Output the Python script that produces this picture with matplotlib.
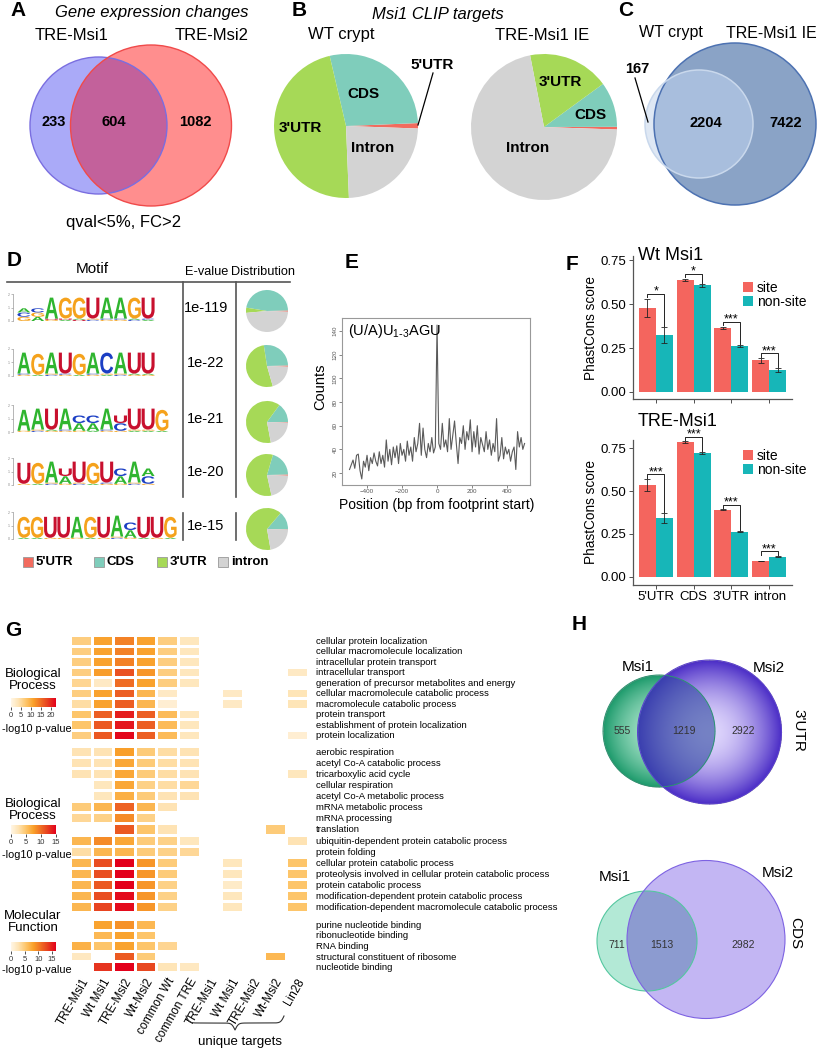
import numpy as np
import matplotlib
matplotlib.use('Agg')
import matplotlib.pyplot as plt
from matplotlib.patches import Circle, PathPatch, Patch
from matplotlib.textpath import TextPath
from matplotlib.font_manager import FontProperties
from matplotlib.transforms import Affine2D
from matplotlib.colors import LinearSegmentedColormap, to_rgb

plt.rcParams['font.family'] = 'Liberation Sans'
plt.rcParams['axes.facecolor'] = 'none'

n = np.nan

# ---------------- data ----------------
# A
a_names = ['TRE-Msi1', 'TRE-Msi2']
a_counts = [233, 604, 1082]

# B
regions = ["5'UTR", 'CDS', "3'UTR", 'Intron']
region_colors = ['#f26b5e', '#7fcdbb', '#a6d957', '#d3d3d3']
b_wt = [1.2, 28, 47, 23.8]
b_tre = [0.6, 10, 18, 71.4]

# C
c_names = ['WT crypt', 'TRE-Msi1 IE']
c_counts = [167, 2204, 7422]

# D  (lowercase = minor letter, uppercase = major letter, bottom to top)
motifs = [
    ['GCA', 'AGC', 'guA', 'auG', 'uaG', 'cgU', 'gcA', 'gcA', 'caG', 'acU'],
    ['gcA', 'aG', 'cgA', 'gcU', 'aG', 'gcA', 'agC', 'cgA', 'gaU', 'gaU'],
    ['gA', 'cgA', 'gaU', 'gcA', 'gAC', 'aAC', 'gcA', 'gCU', 'agU', 'agU', 'aG'],
    ['gU', 'aG', 'cgA', 'gAU', 'cgU', 'aG', 'gcU', 'gAC', 'cgA', 'gCA'],
    ['aG', 'aG', 'gU', 'gU', 'gA', 'aG', 'gU', 'cgA', 'gAC', 'aU', 'gU', 'aG'],
]
evalues = ['1e-119', '1e-22', '1e-21', '1e-20', '1e-15']
motif_dist = [[1, 47, 4, 48], [1, 27, 52, 20], [0.5, 15, 63, 21.5],
              [1, 20, 58, 21], [0.3, 14, 64, 21.7]]
legend_regions = ["5'UTR", 'CDS', "3'UTR", 'intron']
letter_colors = {'A': '#2fb52f', 'C': '#1c3fc4', 'G': '#f5a21c', 'U': '#c8102e'}

# E
e_pos = np.arange(-500, 501, 10)
e_counts = [23, 27, 31, 24, 35, 36, 22, 15, 30, 25,
            35, 22, 33, 28, 37, 30, 26, 38, 28, 35,
            25, 48, 30, 40, 27, 42, 33, 43, 28, 45,
            35, 40, 30, 47, 35, 42, 30, 50, 38, 45,
            62, 35, 58, 40, 33, 45, 38, 50, 37, 42,
            145, 45, 40, 62, 42, 48, 38, 66, 40, 52,
            64, 45, 28, 50, 45, 60, 40, 55, 48, 65,
            38, 55, 42, 60, 36, 50, 44, 38, 55, 40,
            48, 35, 45, 38, 66, 30, 35, 50, 32, 42,
            36, 40, 30, 38, 42, 23, 55, 42, 50, 40, 45]

# F
f_regions = ["5'UTR", 'CDS', "3'UTR", 'intron']
wt_site = [0.48, 0.64, 0.365, 0.18]
wt_site_err = [0.052, 0.005, 0.008, 0.014]
wt_non = [0.325, 0.607, 0.262, 0.125]
wt_non_err = [0.045, 0.008, 0.005, 0.012]
wt_sig = ['*', '*', '***', '***']
tre_site = [0.535, 0.785, 0.39, 0.093]
tre_site_err = [0.035, 0.004, 0.003, 0.002]
tre_non = [0.343, 0.722, 0.263, 0.118]
tre_non_err = [0.03, 0.004, 0.003, 0.002]
tre_sig = ['***', '***', '***', '***']

# G
g_cols = ['TRE-Msi1', 'Wt Msi1', 'TRE-Msi2', 'Wt-Msi2', 'common Wt', 'common TRE',
          'TRE-Msi1', 'Wt Msi1', 'TRE-Msi2', 'Wt-Msi2', 'Lin28']
g1_terms = ['cellular protein localization', 'cellular macromolecule localization',
            'intracellular protein transport', 'intracellular transport',
            'generation of precursor metabolites and energy',
            'cellular macromolecule catabolic process', 'macromolecule catabolic process',
            'protein transport', 'establishment of protein localization', 'protein localization']
g1_vals = [
    [6.5, 11, 13.5, 11, 6.5, 3, n, n, n, n, n],
    [6.5, 11, 13.5, 11, 6.5, 3, n, n, n, n, n],
    [6.5, 11, 13.5, 11, 6.5, 3, n, n, n, n, n],
    [6.5, 11.5, 17, 12, 6.5, 3, n, n, n, n, 2.5],
    [5.5, 2.5, 15, 11, 6.5, 3, n, n, n, n, n],
    [6.5, 11, 16, 9, 2.5, n, n, 2.5, n, n, 3.5],
    [4.5, 11, 16, 9, 1.5, n, n, 2.5, n, n, 3.5],
    [7.5, 16, 20.5, 16, 8.5, 3, n, n, n, n, n],
    [7.5, 16.5, 21, 16, 8.5, 3, n, n, n, n, n],
    [6.5, 16.5, 22, 16, 8.5, 3, n, n, n, n, 1.5],
]
g2_terms = ['aerobic respiration', 'acetyl Co-A catabolic process', 'tricarboxylic acid cycle',
            'cellular respiration', 'acetyl Co-A metabolic process', 'mRNA metabolic process',
            'mRNA processing', 'translation', 'ubiquitin-dependent protein catabolic process',
            'protein folding', 'cellular protein catabolic process',
            'proteolysis involved in cellular protein catabolic process',
            'protein catabolic process', 'modification-dependent protein catabolic process',
            'modification-dependent macromolecule catabolic process']
g2_vals = [
    [2.5, 2.5, 7.5, 4.5, 3, 2.5, n, n, n, n, n],
    [2.5, 2.5, 7, 4.5, 3, 2.5, n, n, n, n, n],
    [2.5, 2.5, 7, 4.5, 3, 2.5, n, n, n, n, 2],
    [n, 2, 7, 4, 3, 3.5, n, n, n, n, n],
    [n, 2, 6.5, 4.5, 2.5, 2.5, n, n, n, n, n],
    [4.5, 6, 10.5, 6, 2.5, n, n, n, n, n, n],
    [3.5, 4, 8.5, 4, n, n, n, n, n, n, n],
    [n, n, 11, 5, 2.5, n, n, n, n, 4.5, n],
    [6, 8.5, 7, 4.5, 4, 2, n, n, n, n, 2.5],
    [3, 6, 6, 4.5, 4, 3.5, n, n, n, n, n],
    [6, 11.5, 15, 8, 4.5, n, n, 2, n, n, 5],
    [6, 11.5, 15, 8, 4.5, n, n, 2, n, n, 5],
    [6, 11, 15, 8, 4, n, n, 1.5, n, n, 5],
    [6, 11.5, 14.5, 8, 4, n, n, 2, n, n, 5],
    [6, 12, 14.5, 8, 4, n, n, 2, n, n, 5],
]
g3_terms = ['purine nucleotide binding', 'ribonucleotide binding', 'RNA binding',
            'structural constituent of ribosome', 'nucleotide binding']
g3_vals = [
    [n, 8, 9, 6.5, n, n, n, n, n, n, n],
    [n, 6.5, 8, 5.5, n, n, n, n, n, n, n],
    [7, 5.5, 8, 5.5, 4, n, n, n, n, n, n],
    [2, n, 12, 5, n, n, n, n, n, 6.5, n],
    [n, 14, 16.5, 13, 2.5, 2, n, n, n, n, n],
]

# H
h_utr_counts = [555, 1219, 2922]
h_cds_counts = [711, 1513, 2982]

# ---------------- figure ----------------
W, H = 820, 1050
fig = plt.figure(figsize=(8.2, 10.5), dpi=100)


def px_axes(x, y, w, h, **kw):
    return fig.add_axes([x / W, 1 - (y + h) / H, w / W, h / H], **kw)


ov = px_axes(0, 0, W, H, zorder=5)
ov.axis('off')


def txt(x, y, s, size=10, **kw):
    kw.setdefault('ha', 'center')
    kw.setdefault('va', 'center')
    ov.text(x, y, s, fontsize=size, **kw)


def venn2(c1, r1, c2, r2, f1, f2, f12, e1, e2, lw=1.0):
    ov.add_patch(Circle(c1, r1, fc=f1, ec='none'))
    ov.add_patch(Circle(c2, r2, fc=f2, ec='none'))
    clip = Circle(c1, r1, fill=False, lw=0)
    ov.add_patch(clip)
    inter = Circle(c2, r2, fc=f12, ec='none')
    ov.add_patch(inter)
    inter.set_clip_path(clip)
    ov.add_patch(Circle(c1, r1, fill=False, ec=e1, lw=lw))
    ov.add_patch(Circle(c2, r2, fill=False, ec=e2, lw=lw))


def pie_at(cx, cy, r, vals):
    ax = px_axes(cx - r, cy - r, 2 * r, 2 * r)
    ax.pie(vals, colors=region_colors, startangle=-2, counterclock=True,
           wedgeprops=dict(linewidth=0))
    ax.set_xlim(-1, 1)
    ax.set_ylim(-1, 1)
    return ax


# panel letters
for lab, x, y in [('A', 10, 11), ('B', 292, 11), ('C', 618, 10), ('D', 7, 260),
                  ('E', 345, 263), ('F', 566, 264), ('G', 5, 631), ('H', 572, 624)]:
    txt(x, y, lab, 15, weight='bold', ha='left')

# ---- A ----
txt(152, 12, 'Gene expression changes', 12, style='italic')
txt(72, 35, a_names[0], 12)
txt(212, 35, a_names[1], 12)
venn2((98.5, 125.5), 68.5, (151, 125.5), 80.5,
      '#aaaaf8', '#ff8e8e', '#c3619b', '#7a6ee0', '#f04a4a')
for x, v in zip([54, 114, 195], a_counts):
    txt(x, 122, str(v), 10.5, weight='bold')
txt(124, 222, 'qval<5%, FC>2', 12)

# ---- B ----
txt(438, 15, 'Msi1 CLIP targets', 12, style='italic')
txt(341, 35, 'WT crypt', 12)
txt(542, 35, 'TRE-Msi1 IE', 12)
pie_at(346, 126, 72, b_wt)
pie_at(544, 127, 73, b_tre)
txt(363, 94, 'CDS', 11, weight='bold')
txt(300, 128, "3'UTR", 11, weight='bold')
txt(373, 148, 'Intron', 11, weight='bold')
txt(432, 65, "5'UTR", 11, weight='bold')
ov.plot([433, 418], [73, 125], color='black', lw=0.9)
txt(560, 82, "3'UTR", 11, weight='bold')
txt(590, 115, 'CDS', 11, weight='bold')
txt(528, 148, 'Intron', 11, weight='bold')

# ---- C ----
txt(671, 33, c_names[0], 11.5)
txt(817, 33, c_names[1], 11.5, ha='right')
venn2((735, 124), 81, (699, 124), 54, '#8aa3c6', '#dfe8f4', '#a8bedd', '#4d72b2', '#c9d8ec', lw=1.1)
txt(637, 69, str(c_counts[0]), 10.5, weight='bold')
ov.plot([635, 648], [78, 122], color='black', lw=0.9)
txt(706, 123, str(c_counts[1]), 10.5, weight='bold')
txt(786, 123, str(c_counts[2]), 10.5, weight='bold')

# ---- D ----
txt(92, 269, 'Motif', 11)
txt(207, 272, 'E-value', 9.2)
txt(263, 272, 'Distribution', 9.2)
ov.plot([7, 290], [282, 282], color='#555555', lw=1.2)
for x in [183, 236]:
    ov.plot([x, x], [282, 497], color='#555555', lw=1.2)
    ov.plot([x, x], [513, 540], color='#555555', lw=1.2)

fp_logo = FontProperties(family='Liberation Sans', weight='bold')
letter_paths = {}
for ch in 'ACGU':
    letter_paths[ch] = TextPath((0, 0), ch, size=1, prop=fp_logo)


def draw_letter(ax, ch, x, y, w, h):
    tp = letter_paths[ch]
    bb = tp.get_extents()
    tr = Affine2D().translate(-bb.x0, -bb.y0).scale(w / bb.width, h / bb.height).translate(x, y)
    ax.add_patch(PathPatch(tr.transform_path(tp), fc=letter_colors[ch], ec='none'))


row_y = [308, 363, 419, 472, 526]
for motif, yc, ev, dist in zip(motifs, row_y, evalues, motif_dist):
    npos = len(motif)
    pw = min(13.8, 160 / npos)
    lax = px_axes(17, yc - 14, npos * pw, 27)
    lax.set_xlim(0, npos)
    lax.set_ylim(0, 2)
    for s in ['top', 'right', 'bottom']:
        lax.spines[s].set_visible(False)
    lax.spines['left'].set_position(('outward', 3))
    lax.spines['left'].set_color('#999999')
    lax.spines['left'].set_linewidth(0.5)
    lax.set_xticks([])
    lax.set_yticks([0, 1, 2])
    lax.tick_params(axis='y', length=1.5, width=0.4, labelsize=2.5, pad=0.5, colors='#888888')
    for i, stack in enumerate(motif):
        nbig = sum(c.isupper() for c in stack)
        big_total = {1: 1.6, 2: 1.15, 3: 0.95}[nbig]
        y0 = 0
        for c in stack:
            h = 0.09 if c.islower() else big_total / nbig
            draw_letter(lax, c.upper(), i + 0.03, y0, 0.94, h * 0.97)
            y0 += h
    txt(206, yc, ev, 10.5)
    pie_at(267, yc + 3, 21, dist)

for x, lab, col in zip([23, 94, 157, 218], legend_regions, region_colors):
    ov.add_patch(plt.Rectangle((x, 557), 10, 10, fc=col, ec='#999999', lw=0.6))
    txt(x + 13, 562, lab, 9.5, weight='bold', ha='left')

# ---- E ----
eax = px_axes(342, 318, 188, 167)
eax.plot(e_pos, e_counts, color='#5a5a5a', lw=0.8)
eax.set_xlim(-543, 531)
eax.set_ylim(9.9, 151)
eax.set_xticks([-400, -200, 0, 200, 400])
eax.set_yticks(range(20, 141, 20))
eax.tick_params(labelsize=4.5, length=2, width=0.5, colors='#555555', pad=1)
for lab in eax.get_yticklabels():
    lab.set_rotation(90)
    lab.set_va('center')
for s in eax.spines.values():
    s.set_color('#999999')
    s.set_linewidth(0.8)
eax.text(0.03, 0.92, r'(U/A)U$_{\mathregular{1\text{-}3}}$AGU', transform=eax.transAxes,
         fontsize=10.5, va='center')
txt(320, 387, 'Counts', 10.5, rotation=90)
txt(437, 505, 'Position (bp from footprint start)', 10)

# ---- F ----
c_site, c_non = '#f4655e', '#17b6b8'


def draw_f(ax, site, site_err, non, non_err, sig, show_x):
    x = np.arange(1, 5)
    ax.bar(x - 0.225, site, 0.45, color=c_site)
    ax.bar(x + 0.225, non, 0.45, color=c_non)
    ax.errorbar(x - 0.225, site, yerr=site_err, fmt='none', ecolor='#222222',
                elinewidth=0.6, capsize=2, capthick=0.6)
    ax.errorbar(x + 0.225, non, yerr=non_err, fmt='none', ecolor='#222222',
                elinewidth=0.6, capsize=2, capthick=0.6)
    for i in range(4):
        top = max(site[i] + site_err[i], non[i] + non_err[i]) + 0.028
        ax.plot([x[i] - 0.225, x[i] - 0.225, x[i] + 0.225, x[i] + 0.225],
                [top - 0.02, top, top, non[i] + non_err[i] + 0.005], color='#222222', lw=0.7,
                clip_on=False)
        ax.annotate(sig[i], (x[i], top), xytext=(0, 1.5), textcoords='offset points',
                    ha='center', va='center', fontsize=9, annotation_clip=False)
    ax.set_xlim(0.4, 4.6)
    ax.set_xticks(x)
    ax.set_xticklabels(f_regions if show_x else [], fontsize=10)
    ax.set_yticks([0, 0.25, 0.5, 0.75])
    ax.set_yticklabels(['0.00', '0.25', '0.50', '0.75'])
    ax.tick_params(labelsize=9.5, length=3, width=0.6, colors='#333333', labelcolor='black', pad=1.5)
    for s in ['top', 'right']:
        ax.spines[s].set_visible(False)
    for s in ['left', 'bottom']:
        ax.spines[s].set_color('#555555')
        ax.spines[s].set_linewidth(0.9)
    ax.set_ylabel('PhastCons score', fontsize=9.8, labelpad=2)


fax1 = px_axes(633, 256, 159, 143)
draw_f(fax1, wt_site, wt_site_err, wt_non, wt_non_err, wt_sig, False)
fax1.set_ylim(-0.04, 0.775)
fax2 = px_axes(633, 440, 159, 145)
draw_f(fax2, tre_site, tre_site_err, tre_non, tre_non_err, tre_sig, True)
fax2.set_ylim(-0.047, 0.797)
txt(638, 255, 'Wt Msi1', 13, ha='left')
txt(638, 421, 'TRE-Msi1', 13, ha='left')
for ax, ytop in [(fax1, 281), (fax2, 449)]:
    ax.legend(handles=[Patch(fc=c_site, label='site'), Patch(fc=c_non, label='non-site')],
              loc='upper left', bbox_to_anchor=(743 / W, 1 - ytop / H),
              bbox_transform=fig.transFigure, frameon=False, fontsize=10,
              handlelength=0.75, handleheight=0.75, handletextpad=0.25,
              labelspacing=0.0, borderpad=0, borderaxespad=0)

# ---- G ----
heat_cmap = LinearSegmentedColormap.from_list(
    'go', ['#fff6e6', '#fee3b3', '#fdc56a', '#f9a02a', '#ef6d24', '#e63a1f', '#e3001b'])

groups = [
    (g1_vals, g1_terms, 22.5, [0, 5, 10, 15, 20], 635, 105, ('Biological', 'Process'), 680, 698, 729),
    (g2_vals, g2_terms, 15, [0, 5, 10, 15], 746, 166, ('Biological', 'Process'), 810, 825, 855),
    (g3_vals, g3_terms, 16.5, [0, 5, 10, 15], 919, 53, ('Molecular', 'Function'), 922, 942, 970),
]
gw = 11 * 21.6
for k, (vals, terms, vmax, ticks, y0, hh, ttl, ty, cy, ly) in enumerate(groups):
    arr = np.ma.masked_invalid(np.array(vals, dtype=float))
    gax = px_axes(70, y0, gw, hh)
    gax.pcolormesh(arr, cmap=heat_cmap, vmin=0, vmax=vmax, edgecolors='white', linewidth=1.0)
    gax.set_xlim(0, 11)
    gax.set_ylim(len(terms), 0)
    for s in gax.spines.values():
        s.set_visible(False)
    gax.yaxis.tick_right()
    gax.set_yticks(np.arange(len(terms)) + 0.5)
    gax.set_yticklabels(terms, fontsize=6.8)
    gax.tick_params(axis='y', length=0, pad=6)
    if k == 2:
        gax.set_xticks(np.arange(11) + 0.5)
        gax.set_xticklabels(g_cols, rotation=60, ha='right', rotation_mode='anchor', fontsize=8.5)
        gax.tick_params(axis='x', length=0, pad=3)
    else:
        gax.set_xticks([])
    cax = px_axes(11, cy, 45, 9)
    sm = plt.cm.ScalarMappable(cmap=heat_cmap, norm=plt.Normalize(0, vmax))
    cb = fig.colorbar(sm, cax=cax, orientation='horizontal', ticks=ticks)
    cb.outline.set_visible(False)
    cax.tick_params(length=2.5, width=0.6, labelsize=5.5, pad=1, colors='#333333')
    txt(33, ty, ttl[0] + '\n' + ttl[1], 9.5, linespacing=1.05)
    txt(2, ly, '-log10 p-value', 7.8, ha='left')

# curly brace under unique targets
bx0, bx1, by, bh = 186, 284, 1016, 14
xh = np.linspace(0, 0.5, 151)
yh = 1 / (1 + np.exp(-60 * xh)) + 1 / (1 + np.exp(-60 * (xh - 0.5))) - 0.5
ycurve = np.concatenate((yh, yh[-2::-1]))
xcurve = np.linspace(bx0, bx1, len(ycurve))
ov.plot(xcurve, by + bh * ycurve, color='#333333', lw=0.8)
txt(240, 1042, 'unique targets', 9.5)

# ---- H ----
gx0, gx1, gy0, gy1 = 595, 790, 655, 810
xs = np.arange(gx0, gx1, 0.5)
ys = np.arange(gy0, gy1, 0.5)
X, Y = np.meshgrid(xs, ys)
gc, gr = (659, 731), 56
pc, pr = (709.5, 732), 72


def shade(cx, cy, r, c0, c1):
    d = np.clip(np.hypot(X - cx, Y - cy) / r, 0, 1)
    t = (d ** 1.8)[..., None]
    return np.array(to_rgb(c0)) * (1 - t) + np.array(to_rgb(c1)) * t, np.hypot(X - cx, Y - cy) <= r


gcol, gin = shade(gc[0], gc[1], gr, '#a9e4ca', '#1c9a6b')
pcol, pin = shade(pc[0], pc[1], pr, '#ded5fc', '#4a2cc6')
img = np.zeros(X.shape + (4,))
img[gin, :3] = gcol[gin]
img[pin, :3] = pcol[pin]
both = gin & pin
img[both, :3] = pcol[both] * 0.4 + np.array(to_rgb('#2f4aa0')) * 0.6
img[gin | pin, 3] = 1
ov.imshow(img, extent=(gx0, gx1, gy1, gy0), origin='upper', interpolation='bilinear', zorder=1)
ov.add_patch(Circle(gc, gr, fill=False, ec='#2a9470', lw=0.7, zorder=2))
ov.add_patch(Circle(pc, pr, fill=False, ec='#5a3fd0', lw=0.7, zorder=2))
txt(638, 667, 'Msi1', 11)
txt(769, 668, 'Msi2', 11)
txt(798, 730, "3'UTR", 11, rotation=-90)
for x, v in zip([622, 684, 743], h_utr_counts):
    txt(x, 731, str(v), 7.5, color='#333333')

venn2((647, 941), 50, (706, 939.5), 79, '#b3e9d6', '#c3b6f3', '#8c9bd0', '#55c7a0', '#7d62e2', lw=0.8)
txt(615, 877, 'Msi1', 11)
txt(778, 873, 'Msi2', 11)
txt(795, 933, 'CDS', 11, rotation=-90)
for x, v in zip([617, 662, 743], h_cds_counts):
    txt(x, 945, str(v), 7.5, color='#333333')

ov.set_xlim(0, W)
ov.set_ylim(H, 0)
ov.set_aspect('auto')

fig.savefig('out.png', dpi=100)
